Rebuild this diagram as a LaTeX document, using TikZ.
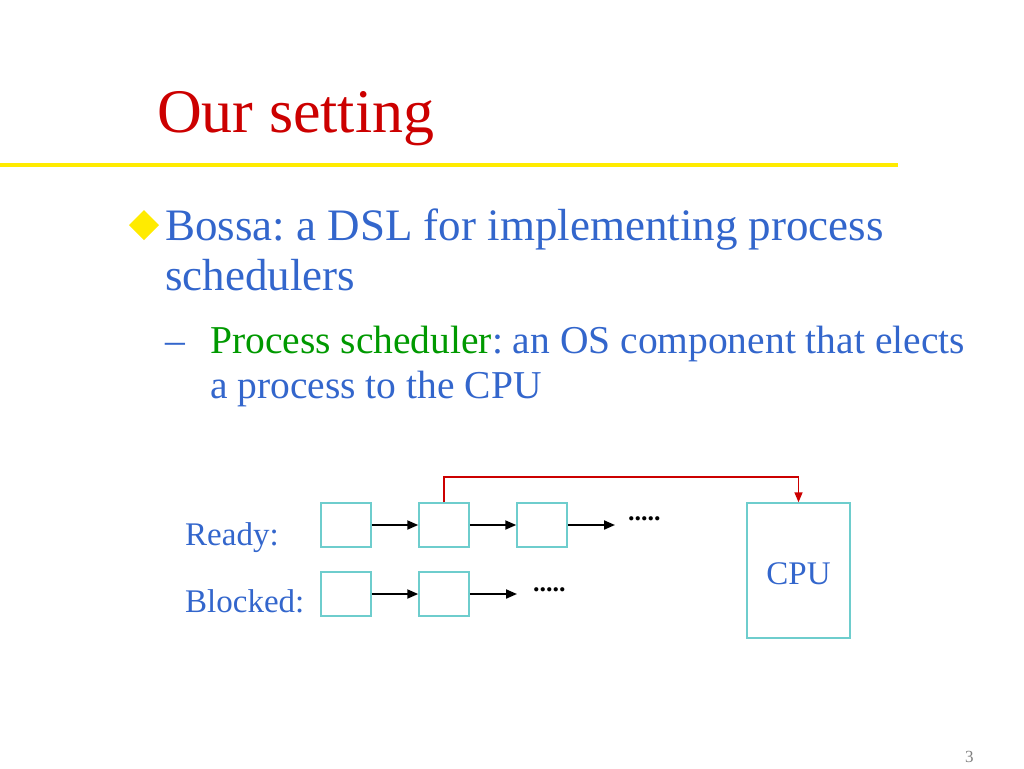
\documentclass[tikz,border=0pt]{standalone}
\usepackage{fontspec}
\setmainfont{Liberation Serif}
\usetikzlibrary{arrows.meta,positioning}
\definecolor{titlered}{RGB}{204,0,0}
\definecolor{textblue}{RGB}{51,102,204}
\definecolor{textgreen}{RGB}{0,153,0}
\definecolor{boxcyan}{RGB}{110,205,205}
\definecolor{lineyellow}{RGB}{255,235,0}
\frenchspacing

\begin{document}
\begin{tikzpicture}[x=1pt, y=-1pt, node distance=46.5pt, txt/.style={
% The text:
anchor=base west, inner sep=0pt, text=textblue
}, qbox/.style={
% The box:
rectangle, draw=boxcyan, line width=1.5pt,
% The size:
minimum width=50pt, minimum height=44pt, inner sep=0pt
}, link/.style={-{Triangle[length=11pt,width=9pt]}, line width=2pt, black}]

	\useasboundingbox (0,0) rectangle (1024,768);

	% title and rule
	\node (title) [txt, text=titlered, font=\fontsize{62}{70}\selectfont] at (157,132) {Our setting};
	\draw[lineyellow, line width=4pt] (0,165) -- (898,165);

	% bullet text
	\fill[lineyellow] (129,225) -- (144,210) -- (159,225) -- (144,240) -- cycle;
	\node (b1) [txt, font=\fontsize{45}{50}\selectfont] at (165,240) {Bossa: a DSL for implementing process};
	\node (b2) [txt, font=\fontsize{45}{50}\selectfont] at (165,290) {schedulers};
	\node (dash) [txt, font=\fontsize{39.5}{45}\selectfont] at (165,353) {--};
	\node (s1) [txt, font=\fontsize{39.5}{45}\selectfont] at (210,353) {\textcolor{textgreen}{Process scheduler}: an OS component that elects};
	\node (s2) [txt, font=\fontsize{39.5}{45}\selectfont] at (210,398) {a process to the CPU};

	% queues
	\node (ready) [txt, font=\fontsize{33}{38}\selectfont] at (185,545) {Ready:};
	\node (blocked) [txt, font=\fontsize{33}{38}\selectfont] at (185,612) {Blocked:};

	\node (r1) [qbox] at (346,525) {};
	\node (r2) [qbox, right=of r1] {};
	\node (r3) [qbox, right=of r2] {};
	\node (k1) [qbox] at (346,594) {};
	\node (k2) [qbox, right=of k1] {};

	\coordinate (rend) at (615,525);
	\coordinate (kend) at (517,594);
	\node (rdots) [anchor=west, inner sep=0pt, font=\fontsize{26}{30}\selectfont\bfseries] at (628,519) {.....};
	\node (kdots) [anchor=west, inner sep=0pt, font=\fontsize{26}{30}\selectfont\bfseries] at (533,590) {.....};

	\draw[link] (r1) -- (r2);
	\draw[link] (r2) -- (r3);
	\draw[link] (r3) -- (rend);
	\draw[link] (k1) -- (k2);
	\draw[link] (k2) -- (kend);

	% processor
	\node (cpu) [qbox, minimum width=103pt, minimum height=135pt] at (798.5,570.5) {};
	\node (cpulabel) [txt, anchor=base, font=\fontsize{33}{38}\selectfont] at (798.5,584) {CPU};
	\draw[-{Triangle[length=10pt,width=8pt]}, line width=1.6pt, titlered] (r2.north) -- ++(0,-25) -| (cpu.north);

	% page number
	\node (page) [txt, text=gray, font=\fontsize{17}{20}\selectfont] at (965,762) {3};
\end{tikzpicture}
\end{document}
